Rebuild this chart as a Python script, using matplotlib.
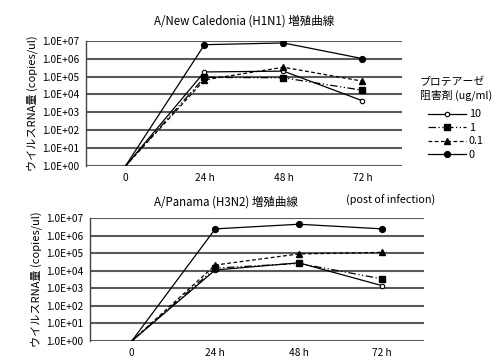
import matplotlib
matplotlib.use("Agg")
import matplotlib.pyplot as plt

plt.rcParams['font.family'] = ['Noto Sans CJK JP', 'DejaVu Sans']

hours = ['0', '24 h', '48 h', '72 h']
doses = ['10', '1', '0.1', '0']

# H1N1 (A/New Caledonia)
h1n1_10 = [1, 1.8e5, 2.0e5, 4.4e3]
h1n1_1 = [1, 9.0e4, 8.5e4, 1.7e4]
h1n1_01 = [1, 6.5e4, 3.3e5, 5.5e4]
h1n1_0 = [1, 6.0e6, 7.5e6, 1.0e6]

# H3N2 (A/Panama)
h3n2_10 = [1, 1.1e4, 2.8e4, 1.4e3]
h3n2_1 = [1, 1.4e4, 2.6e4, 3.4e3]
h3n2_01 = [1, 2.1e4, 9.0e4, 1.1e5]
h3n2_0 = [1, 2.4e6, 4.4e6, 2.4e6]

styles = [
    dict(ls='-', marker='o', ms=3.2, mfc='white', mec='black', mew=0.8, lw=0.9),
    dict(ls=(0, (6, 2, 1, 2, 1, 2)), marker='s', ms=4.5, lw=0.9),
    dict(ls=(0, (3, 2)), marker='^', ms=4.5, lw=0.9),
    dict(ls='-', marker='o', ms=4.2, lw=0.9),
]

fig = plt.figure(figsize=(4.99, 3.6), dpi=100)
ax1 = fig.add_axes([0.1723, 0.5389, 0.6333, 0.348])
ax2 = fig.add_axes([0.1804, 0.0528, 0.6693, 0.3417])

yticks = [10.0 ** i for i in range(8)]
ylabels = ['1.0E+%02d' % i for i in range(8)]

for ax, series in [(ax1, [h1n1_10, h1n1_1, h1n1_01, h1n1_0]),
                   (ax2, [h3n2_10, h3n2_1, h3n2_01, h3n2_0])]:
    for vals, st, lab in zip(series, styles, doses):
        ax.plot(range(len(hours)), vals, color='black', label=lab, zorder=3,
                markevery=[1, 2, 3], **st)
    ax.set_yscale('log')
    ax.set_ylim(1, 1e7)
    ax.set_xlim(-0.5, 3.5)
    ax.set_yticks(yticks)
    ax.set_yticklabels(ylabels)
    ax.minorticks_off()
    ax.set_xticks(range(len(hours)))
    ax.set_xticklabels(hours)
    ax.tick_params(length=0, labelsize=7.3, pad=5)
    ax.tick_params(axis='x', pad=5)
    ax.grid(axis='y', color='#5a5a5a', lw=1.5)
    for s in ['top', 'right', 'bottom']:
        ax.spines[s].set_visible(False)
    ax.spines['left'].set_color('#444444')
    ax.spines['left'].set_linewidth(1.0)
    ax.set_ylabel('ウイルスRNA量 (copies/ul)', fontsize=8, labelpad=3)

ax1.set_title('A/New Caledonia (H1N1) 増殖曲線', fontsize=8.3, pad=12)
fig.text(0.453, 1 - 202 / 360, 'A/Panama (H3N2) 増殖曲線', fontsize=8.3,
         ha='center', va='center')
fig.text(0.782, 1 - 200 / 360, '(post of infection)', fontsize=7.8,
         ha='center', va='center')

leg = ax1.legend(loc='upper left', bbox_to_anchor=(0.83, 0.80),
                 bbox_transform=fig.transFigure, frameon=False,
                 title='プロテアーゼ\n阻害剤 (ug/ml)', fontsize=7.8,
                 title_fontsize=7.8, handlelength=3.5, handletextpad=0.3,
                 labelspacing=0.32, borderpad=0)
leg._legend_box.align = 'center'
leg._legend_box.sep = 6

fig.savefig('out.png', dpi=100)
